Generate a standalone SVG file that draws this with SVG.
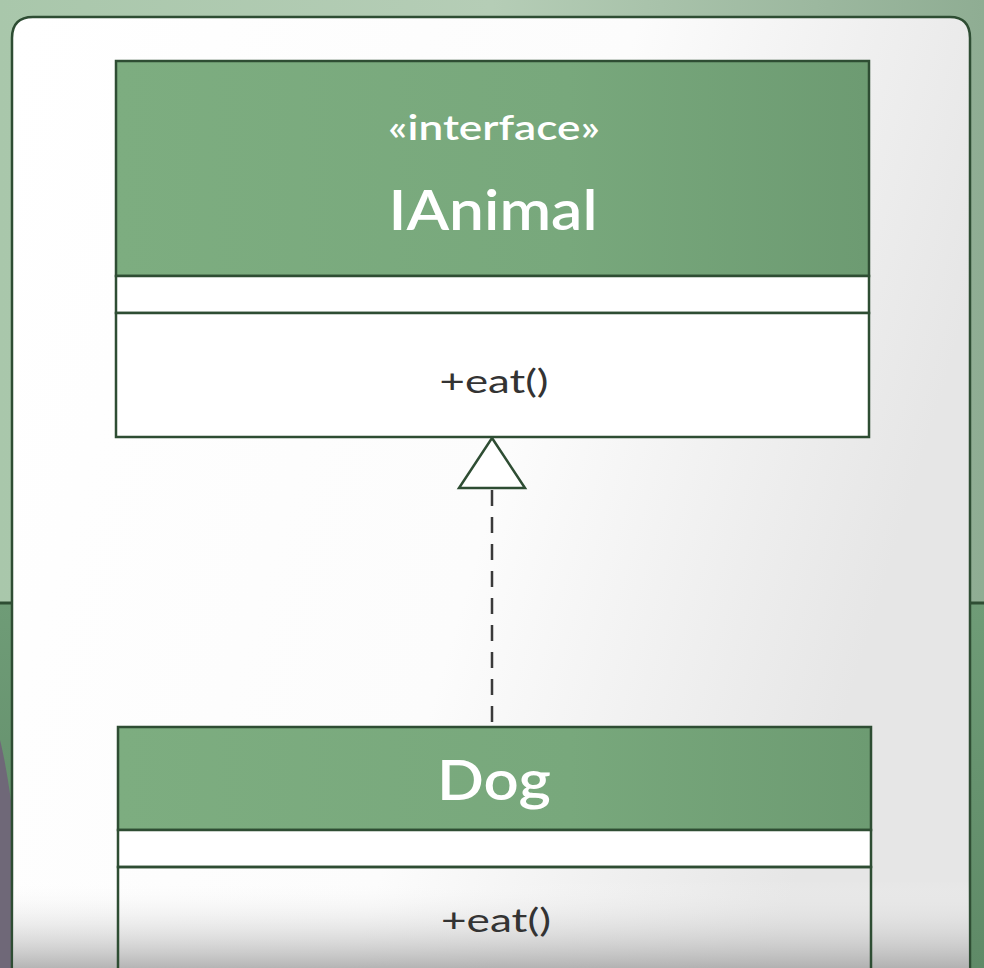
<svg xmlns="http://www.w3.org/2000/svg" width="984" height="968" viewBox="0 0 984 968">
<defs>
<linearGradient id="bgTop" x1="0" y1="0" x2="1" y2="0">
<stop offset="0" stop-color="#a9c7ab"/><stop offset="0.5" stop-color="#b5cdb6"/><stop offset="1" stop-color="#8fad93"/>
</linearGradient>
<linearGradient id="card" x1="0" y1="0" x2="1" y2="0.3">
<stop offset="0" stop-color="#ffffff"/><stop offset="0.6" stop-color="#fcfcfc"/><stop offset="1" stop-color="#e6e6e6"/>
</linearGradient>
<linearGradient id="cardBottom" x1="0" y1="0" x2="0" y2="1">
<stop offset="0" stop-color="#ffffff" stop-opacity="0"/><stop offset="1" stop-color="#a8a8a8" stop-opacity="0.85"/>
</linearGradient>
<linearGradient id="hdr" x1="0" y1="0" x2="1" y2="0">
<stop offset="0" stop-color="#7dad80"/><stop offset="0.6" stop-color="#78a87c"/><stop offset="1" stop-color="#6d9b72"/>
</linearGradient>
<linearGradient id="side" x1="0" y1="0" x2="0" y2="1">
<stop offset="0" stop-color="#6f9c77"/><stop offset="1" stop-color="#5f8a67"/>
</linearGradient>
</defs>
<style>
.box{stroke:#2e4d33;stroke-width:2.5}
.white{fill:#ffffff}
.hd{fill:url(#hdr)}
.t{font-family:Lato,"Noto Sans",sans-serif;text-anchor:middle}
.ht{fill:#ffffff;font-weight:600}
.mt{fill:#333333;font-size:32px}
</style>
<!-- background -->
<rect x="0" y="0" width="984" height="968" fill="url(#bgTop)"/>
<rect x="0" y="603" width="14" height="365" fill="url(#side)"/>
<rect x="968" y="603" width="16" height="365" fill="url(#side)"/>
<line x1="0" y1="603" x2="14" y2="603" stroke="#2e4d33" stroke-width="3"/>
<line x1="968" y1="603" x2="984" y2="603" stroke="#2e4d33" stroke-width="3"/>
<path d="M0 740 C10 780 20 860 26 968 L0 968 Z" fill="#6f6878"/>
<!-- card -->
<path d="M12 968 L12 38 Q12 17 33 17 L950 17 Q970 17 970 38 L970 968" fill="url(#card)" stroke="#2e4d33" stroke-width="2.5"/>
<rect x="13" y="880" width="956" height="88" fill="url(#cardBottom)"/>
<!-- connectors -->
<g id="connectors">
<line x1="492" y1="490" x2="492" y2="727" stroke="#3a3a3a" stroke-width="2.5" stroke-dasharray="16,11"/>
<polygon points="492,438 525,488 459,488" fill="#ffffff" stroke="#2e4d33" stroke-width="2.5" stroke-linejoin="miter"/>
</g>
<!-- IAnimal -->
<g id="IAnimal">
<rect class="box hd" x="116" y="61" width="753" height="215"/>
<rect class="box white" x="116" y="276" width="753" height="37"/>
<rect class="box white" x="116" y="313" width="753" height="124"/>
<text class="t ht" x="494" y="140" font-size="35" textLength="212" lengthAdjust="spacingAndGlyphs">«interface»</text>
<text class="t ht" x="493" y="230" font-size="56" textLength="209" lengthAdjust="spacingAndGlyphs">IAnimal</text>
<text class="t mt" x="494" y="393" textLength="109" lengthAdjust="spacingAndGlyphs">+eat()</text>
</g>
<!-- Dog -->
<g id="Dog">
<rect class="box hd" x="118" y="727" width="753" height="103"/>
<rect class="box white" x="118" y="830" width="753" height="37"/>
<rect class="box" fill="#ffffff" fill-opacity="0" x="118" y="867" width="753" height="110"/>
<text class="t ht" x="494" y="800" font-size="56" textLength="114" lengthAdjust="spacingAndGlyphs">Dog</text>
<text class="t mt" x="496" y="932" textLength="110" lengthAdjust="spacingAndGlyphs">+eat()</text>
</g>
</svg>
